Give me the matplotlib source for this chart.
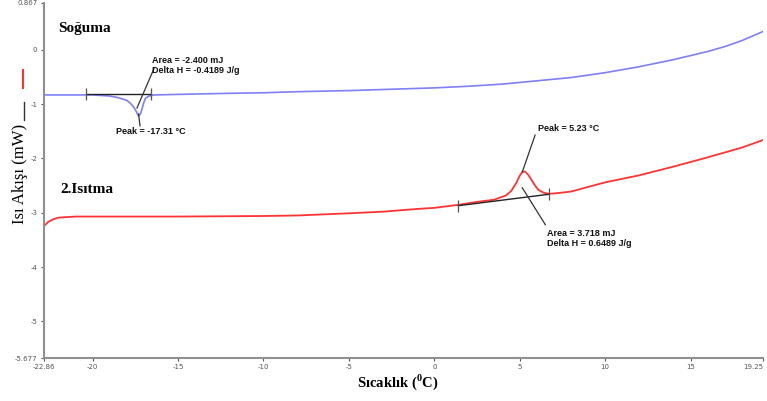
import matplotlib
matplotlib.use("Agg")
import matplotlib.pyplot as plt
from matplotlib.lines import Line2D

plt.rcParams['mathtext.fontset'] = 'custom'
plt.rcParams['mathtext.rm'] = 'Liberation Serif'
plt.rcParams['mathtext.bf'] = 'Liberation Serif:bold'

# cooling curve (Soğuma)
cool_t = [-22.86, -21, -20, -19.5, -19, -18.5, -18, -17.8, -17.6, -17.45, -17.31,
          -17.2, -17.1, -17.0, -16.9, -16.7, -16.4, -15, -12, -10, -8, -5, -2, 0,
          2, 4, 6, 8, 10, 12, 14, 16, 17, 18, 19.25]
cool_q = [-0.83, -0.83, -0.83, -0.84, -0.85, -0.88, -0.93, -0.98, -1.05, -1.13, -1.22,
          -1.18, -1.08, -0.97, -0.89, -0.85, -0.83, -0.82, -0.80, -0.79, -0.77, -0.75,
          -0.72, -0.70, -0.67, -0.63, -0.57, -0.51, -0.42, -0.31, -0.18, -0.03, 0.06,
          0.17, 0.34]

# second heating curve (2.Isıtma)
heat_t = [-22.86, -22.6, -22.3, -22, -21.5, -21, -20, -15, -10, -8, -5, -3, -1, 0,
          1, 1.5, 2.5, 3.5, 4.2, 4.5, 4.8, 5.0, 5.15, 5.3, 5.5, 5.7, 5.9, 6.1, 6.4,
          6.7, 7, 8, 10, 12, 14, 16, 18, 19.25]
heat_q = [-3.25, -3.17, -3.12, -3.09, -3.08, -3.07, -3.07, -3.07, -3.06, -3.05, -3.01,
          -2.98, -2.93, -2.91, -2.87, -2.85, -2.80, -2.76, -2.68, -2.60, -2.45, -2.32,
          -2.25, -2.24, -2.30, -2.40, -2.50, -2.58, -2.63, -2.65, -2.645, -2.61, -2.44,
          -2.31, -2.15, -1.98, -1.80, -1.66]

# integration baselines
cool_base_t = [-20.4, -16.6]
cool_base_q = [-0.82, -0.82]
heat_base_t = [1.4, 6.7]
heat_base_q = [-2.87, -2.66]

xticks = [-22.86, -20, -15, -10, -5, 0, 5, 10, 15, 19.25]
xlabels = ['-22.86', '-20', '-15', '-10', '-5', '0', '5', '10', '15', '19.25']
yticks = [0.867, 0, -1, -2, -3, -4, -5, -5.677]
ylabels = ['0.867', '0', '-1', '-2', '-3', '-4', '-5', '-5.677']

fig = plt.figure(figsize=(7.67, 4.01), dpi=100)
ax = fig.add_axes([0.057, 0.107, 0.938, 0.886])

ax.plot(cool_t, cool_q, color='#7f7ff7', lw=1.2)
ax.plot(heat_t, heat_q, color='#ff3333', lw=1.3)

ax.plot(cool_base_t, cool_base_q, color='#222222', lw=1.0)
ax.plot(cool_base_t, cool_base_q, ls='none', marker='|', ms=9, mew=0.9, color='#555555')
ax.plot(heat_base_t, heat_base_q, color='#222222', lw=1.0)
ax.plot(heat_base_t, heat_base_q, ls='none', marker='|', ms=9, mew=0.9, color='#555555')

# leader lines
ax.plot([-16.4, -17.4], [-0.34, -1.07], color='#333333', lw=0.9)
ax.plot([-17.31, -17.22], [-1.18, -1.40], color='#333333', lw=0.9)
ax.plot([5.9, 5.15], [-1.57, -2.25], color='#333333', lw=0.9)
ax.plot([5.15, 6.5], [-2.54, -3.22], color='#333333', lw=0.9)

ann = dict(fontsize=6.5, fontweight='bold', family='Liberation Sans', color='#111111')
ax.text(-16.5, -0.285, 'Area = -2.400 mJ\nDelta H = -0.4189 J/g', va='center',
        linespacing=1.15, **ann)
ax.text(-18.65, -1.51, 'Peak = -17.31 °C', va='center', **ann)
ax.text(6.1, -1.44, 'Peak = 5.23 °C', va='center', **ann)
ax.text(6.6, -3.48, 'Area = 3.718 mJ\nDelta H = 0.6489 J/g', va='center',
        linespacing=1.15, **ann)

ax.text(-22.0, 0.40, 'Soğuma', family='Liberation Serif', fontweight='bold',
        fontsize=11, va='center')
ax.text(-21.9, -2.58, '2.Isıtma', family='Liberation Serif', fontweight='bold',
        fontsize=11, va='center')

ax.set_xlim(-22.86, 19.25)
ax.set_ylim(-5.677, 0.867)
ax.set_xticks(xticks)
ax.set_xticklabels(xlabels)
ax.set_yticks(yticks)
ax.set_yticklabels(ylabels)
ax.tick_params(labelsize=5, colors='#555555', length=2.5, width=0.8, pad=2)
ax.get_xticklabels()[-1].set_ha('right')

for s in ['top', 'right']:
    ax.spines[s].set_visible(False)
for s in ['left', 'bottom']:
    ax.spines[s].set_color('#909090')
    ax.spines[s].set_linewidth(1.5)

fig.text(0.519, 0.048, r'Sıcaklık ($^{\mathbf{0}}$C)', family='Liberation Serif',
         fontweight='bold', fontsize=10.5, ha='center', va='center')
fig.text(0.026, 0.565, 'Isı Akışı (mW)', family='Liberation Serif', fontsize=12,
         rotation=90, ha='center', va='center')
# legend-like dashes next to the y label
fig.add_artist(Line2D([0.031, 0.031], [0.700, 0.745], color='#333333', lw=1.0))
fig.add_artist(Line2D([0.030, 0.030], [0.780, 0.825], color='#ff3333', lw=1.5))

fig.savefig('out.png', dpi=100)
